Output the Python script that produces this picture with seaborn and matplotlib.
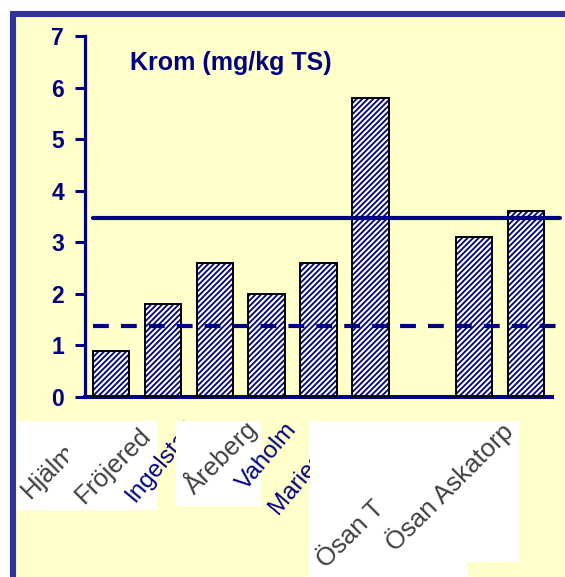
import matplotlib
matplotlib.use("Agg")
import matplotlib.pyplot as plt
from matplotlib.patches import Rectangle
from matplotlib.transforms import Bbox
import seaborn as sns
import pandas as pd

# ---------------- data ----------------
categories = ["Hjälm", "Fröjered", "Ingelstad", "Åreberg", "Vaholm", "Mariestad",
              " ", "Ösan T", "Ösan Askatorp"]
bar_sites = ["Hjälm", "Fröjered", "Ingelstad", "Åreberg", "Vaholm", "Mariestad",
             "Ösan T", "Ösan Askatorp"]
krom_values = [0.9, 1.8, 2.6, 2.0, 2.6, 5.8, 3.1, 3.6]
yticks = [0, 1, 2, 3, 4, 5, 6, 7]
ref_solid = 3.48
ref_dashed = 1.38
title = "Krom (mg/kg TS)"

# ---------------- style ----------------
sns.set_style("ticks")
plt.rcParams["font.family"] = ["Liberation Sans", "DejaVu Sans"]
plt.rcParams["hatch.linewidth"] = 1.3

NAVY = "#000080"
FRAME = "#333399"
BG = "#FFFFCC"

W, H = 565, 577
fig = plt.figure(figsize=(W / 100, H / 100), dpi=100)
fig.patch.set_facecolor("white")


def fx(x):
    return x / W


def fy(y):
    return 1 - y / H


# outer frame (cut off at right and bottom)
fig.patches.append(Rectangle((fx(13), fy(700)), fx(700), fy(14) - fy(700),
                             transform=fig.transFigure, facecolor=BG,
                             edgecolor=FRAME, linewidth=4.4, zorder=-5))

ax = fig.add_axes([fx(85), fy(397), fx(552) - fx(85), fy(36) - fy(397)])
ax.set_zorder(1)
ax.patch.set_alpha(0)

df = pd.DataFrame({"site": bar_sites, "krom": krom_values})
sns.barplot(data=df, x="site", y="krom", order=categories, color="white",
            saturation=1, width=0.7, errorbar=None, hatch="//////",
            edgecolor=NAVY, linewidth=0, ax=ax, zorder=2)
for p in list(ax.patches):
    ax.add_patch(Rectangle(p.get_xy(), p.get_width(), p.get_height(),
                           fill=False, edgecolor="black", linewidth=1.4,
                           zorder=3))

ax.set_xlim(-0.5, len(categories) - 0.5)
ax.set_ylim(0, 7)
ax.set_yticks(yticks)
ax.set_yticklabels([str(t) for t in yticks], fontsize=16.5,
                   fontweight="bold", color=NAVY)
ax.tick_params(axis="y", direction="out", length=7, width=2.2,
               color=NAVY, pad=8)
ax.tick_params(axis="x", length=0, labelbottom=False)
ax.set_xlabel("")
ax.set_ylabel("")
for s in ["top", "right"]:
    ax.spines[s].set_visible(False)
ax.spines["left"].set_color(NAVY)
ax.spines["left"].set_linewidth(2.3)
ax.spines["bottom"].set_color(NAVY)
ax.spines["bottom"].set_linewidth(2.9)

# reference lines
ax.axhline(ref_solid, xmin=0.017, xmax=1.017, color=NAVY, linewidth=3,
           clip_on=False, zorder=4)
ax.axhline(ref_dashed, xmin=0.017, xmax=1.01, color=NAVY, linewidth=3,
           dashes=(3.8, 2.9), clip_on=False, zorder=4)

ax.text(0.096, 0.905, title, transform=ax.transAxes, fontsize=18,
        fontweight="bold", color=NAVY, ha="left", va="baseline")

# ---------------- x labels (pasted label images + text) ----------------
GREY = "#404040"
z = 10


def box(x0, y0, x1, y1):
    global z
    fig.patches.append(Rectangle((fx(x0), fy(y1)), fx(x1) - fx(x0),
                                 fy(y0) - fy(y1), transform=fig.transFigure,
                                 facecolor="white", edgecolor="none",
                                 zorder=z))
    z += 1


def label(text, x, y, color, rot, size, clip=None):
    global z
    t = fig.text(fx(x), fy(y), text, color=color, rotation=rot,
                 rotation_mode="anchor", ha="left", va="baseline",
                 fontsize=size, zorder=z)
    if clip is not None:
        x0, y0, x1, y1 = clip
        t.set_clip_box(Bbox.from_extents(x0, H - y1, x1, H - y0))
        t.set_clip_on(True)
    z += 1


box(17, 421, 68, 510)
label(bar_sites[0], 30, 499, GREY, 45, 18.5, clip=(0, 0, 68, H))
box(68, 421, 157, 510)
label(bar_sites[1], 84, 504, GREY, 45, 18.5)
label(bar_sites[2], 135, 503, NAVY, 50, 17.5)
box(176, 421, 261, 506)
label(bar_sites[3], 194, 495, GREY, 45, 18.5)
label(bar_sites[4], 246, 491, NAVY, 50, 17.5)
label(bar_sites[5], 278, 515, NAVY, 50, 17.5)
box(310, 421, 467, 600)
label(bar_sites[6], 326, 569, GREY, 45, 18.5)
box(380, 421, 519, 562)
label(bar_sites[7], 395, 552, GREY, 45, 18.5)

fig.savefig("out.png", dpi=100)
